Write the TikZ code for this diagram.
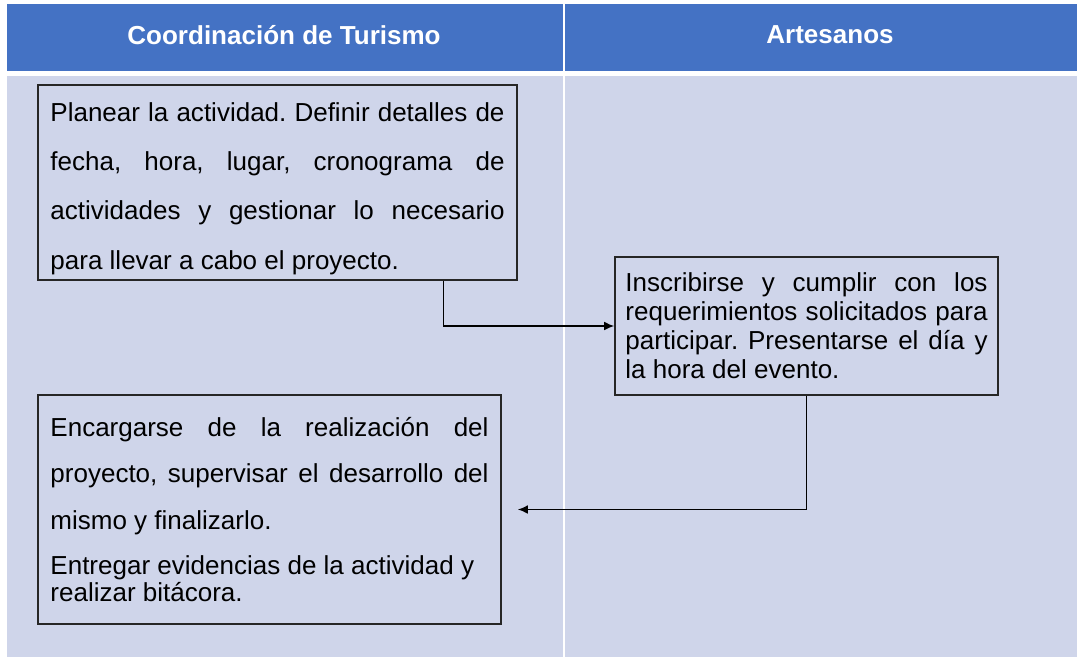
\documentclass[tikz,border=0pt]{standalone}
\usepackage{fontspec}
\setmainfont{Liberation Sans}
\usetikzlibrary{arrows.meta}

\definecolor{encabezado}{HTML}{4472C4}
\definecolor{fondo}{HTML}{CFD5EA}
\definecolor{borde}{HTML}{262626}

\tikzset{
  caja/.style={draw=borde, line width=1.1pt, rectangle, align=justify, inner sep=0pt},
  titulo/.style={text=white, font=\fontsize{18.5}{22}\selectfont\bfseries},
  flecha/.style={draw=black, line width=1.1pt, -{Latex[length=0.25cm,width=0.22cm]}},
}

\begin{document}
\frenchspacing
\begin{tikzpicture}[x=0.025cm, y=-0.025cm]
  % fondo, encabezado y carriles
  \fill[white] (0,0) rectangle (1077,658);
  \fill[encabezado] (7,4) rectangle (1077,71);
  \fill[fondo] (7,76) rectangle (1077,657);
  \draw[white, line width=1.4pt] (564,4) -- (564,657);

  % titulos de las columnas
  \foreach \cx/\nombre/\texto in {284/turismo/Coordinación de Turismo, 830/artesanos/Artesanos}{
    \node[titulo] (\nombre) at (\cx,35) {\texto};
  }

  % cajas de actividades
  \node[caja, minimum width=11.975cm, minimum height=4.875cm, text width=11.35cm,
        font=\fontsize{18.5}{35}\selectfont] (planear) at (277.5,182.5) {%
    \rule{0pt}{22pt}Planear la actividad. Definir detalles de\linebreak
    fecha, hora, lugar, cronograma de\linebreak
    actividades y gestionar lo necesario\linebreak
    para llevar a cabo el proyecto.};

  \node[caja, minimum width=9.575cm, minimum height=3.45cm, text width=9.05cm,
        font=\fontsize{18.5}{20.6}\selectfont] (inscripcion) at (806.5,326) {%
    Inscribirse y cumplir con los\linebreak
    requerimientos solicitados para\linebreak
    participar. Presentarse el día y\linebreak
    la hora del evento.};

  \node[caja, minimum width=11.575cm, minimum height=5.725cm, text width=10.95cm,
        font=\fontsize{18.5}{19.2}\selectfont] (cierre) at (269.5,509.5) {%
    Encargarse de la realización del\vspace{14pt}\linebreak
    proyecto, supervisar el desarrollo del\vspace{14pt}\linebreak
    mismo y finalizarlo.\\[12.8pt]
    Entregar evidencias de la actividad y\\
    realizar bitácora.};

  % conectores
  \draw[flecha] ([xshift=4.15cm]planear.south) |- (inscripcion.west);
  \draw[flecha, shorten >=0.4cm] (inscripcion.south) |- (cierre.east);
\end{tikzpicture}
\end{document}
